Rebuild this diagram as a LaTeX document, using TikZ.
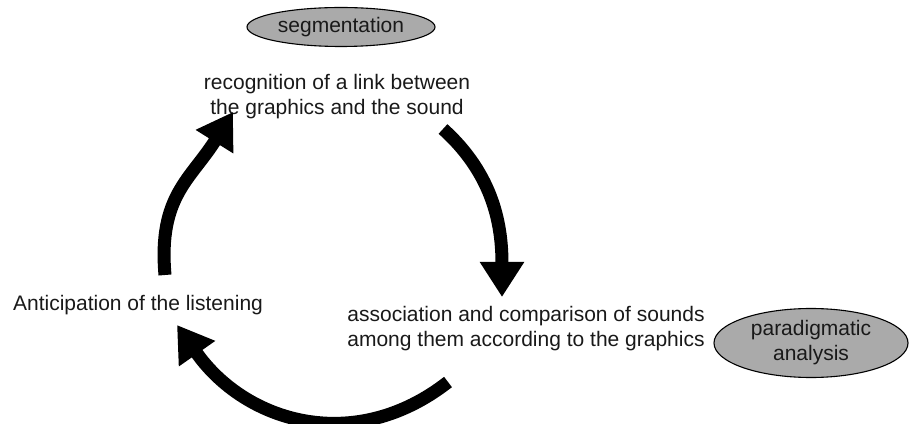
\documentclass[tikz,border=0pt]{standalone}
\usepackage{fontspec}
\setmainfont{Liberation Sans}
\usetikzlibrary{arrows.meta,shapes.geometric}
\definecolor{ovalgray}{RGB}{170,170,170}
\definecolor{txt}{RGB}{25,25,25}
\tikzset{
  cyc/.style={line width=13pt,-{Triangle[width=42pt,length=35pt]}},
  lbl/.style={font=\fontsize{21}{25}\selectfont,align=center,inner sep=0pt,text=txt},
  oval/.style={ellipse,draw=black,line width=1.1pt,fill=ovalgray,inner sep=0pt,text=txt,font=\fontsize{21}{25}\selectfont,align=center}
}
\begin{document}
\begin{tikzpicture}[x=1pt,y=1pt]
\useasboundingbox (0,0) rectangle (909,423);
\node[oval,minimum width=188pt,minimum height=39pt] (seg) at (341,396) {segmentation};
\node[oval,minimum width=194pt,minimum height=69pt] (par) at (811,80) {paradigmatic\\analysis};
\node[lbl] (rec) at (337,326) {recognition of a link between\\the graphics and the sound};
\node[lbl,anchor=base] (ant) at (138,113) {Anticipation of the listening};
\node[lbl] (ass) at (526,94) {association and comparison of sounds\\among them according to the graphics};
\coordinate (l1) at (165,148);
\coordinate (l2) at (233,311);
\coordinate (r1) at (443,294);
\coordinate (r2) at (502,126);
\coordinate (b1) at (448,41);
\coordinate (b2) at (177,98);
\draw[cyc] (l1) to[out=95,in=238,looseness=1.15] (l2);
\draw[cyc] (r1) to[out=-42,in=90] (r2);
\draw[cyc] (b1) to[out=218,in=305,looseness=1.1] (b2);
\end{tikzpicture}
\end{document}
